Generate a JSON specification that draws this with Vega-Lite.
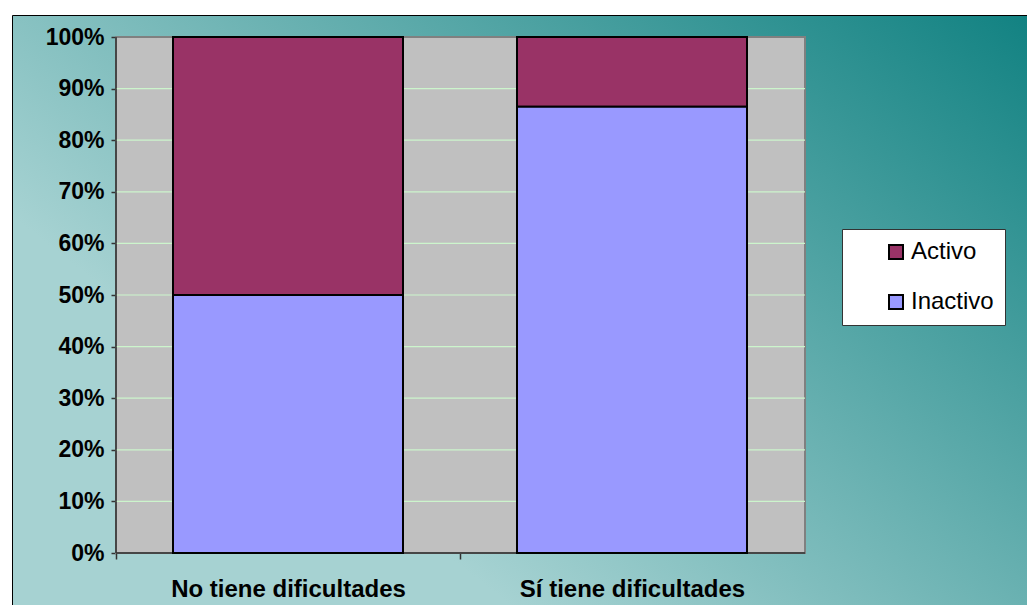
{
  "$schema": "https://vega.github.io/schema/vega-lite/v6.json",
  "width": 1016,
  "height": 591,
  "autosize": {"type": "none"},
  "padding": {"left": 12, "top": 15, "right": 0, "bottom": 0},
  "background": "white",
  "config": {
    "font": "Liberation Sans",
    "view": {
      "fill": {"gradient": "linear", "x1": 1, "y1": 0, "x2": 0.194, "y2": 0.601, "stops": [{"offset": 0, "color": "#128282"}, {"offset": 1, "color": "#a6d2d2"}]},
      "stroke": "black",
      "strokeWidth": 1
    }
  },
  "datasets": {
    "barras": [
      {"cat": "No tiene dificultades", "estado": "Activo", "valor": 0.5},
      {"cat": "No tiene dificultades", "estado": "Inactivo", "valor": 0.5},
      {"cat": "Sí tiene dificultades", "estado": "Activo", "valor": 0.135},
      {"cat": "Sí tiene dificultades", "estado": "Inactivo", "valor": 0.865}
    ],
    "rejilla": [
      {"nivel": 0.1}, {"nivel": 0.2}, {"nivel": 0.3}, {"nivel": 0.4}, {"nivel": 0.5},
      {"nivel": 0.6}, {"nivel": 0.7}, {"nivel": 0.8}, {"nivel": 0.9}
    ],
    "marco": [{"inicio": 0, "fin": 1}]
  },
  "resolve": {"scale": {"x": "independent"}},
  "layer": [
    {
      "layer": [
        {
          "data": {"name": "marco"},
          "mark": {"type": "rect", "fill": "#c0c0c0", "stroke": "#808080", "strokeWidth": 2},
          "encoding": {
            "x": {"field": "inicio", "type": "quantitative", "scale": {"domain": [-0.150943, 1.323657], "nice": false, "zero": false}, "axis": null},
            "x2": {"field": "fin"},
            "y": {"field": "inicio", "type": "quantitative", "title": null,
              "axis": {"offset": -104, "domain": false, "grid": false, "format": ".0%", "values": [0, 0.1, 0.2, 0.3, 0.4, 0.5, 0.6, 0.7, 0.8, 0.9, 1], "labelFontSize": 23, "labelFontWeight": "bold", "labelColor": "black", "labelPadding": 7, "tickSize": 5, "tickColor": "#333333", "tickWidth": 1.5}},
            "y2": {"field": "fin"}
          }
        },
        {
          "data": {"name": "rejilla"},
          "mark": {"type": "rule", "color": "#ccf5cc", "strokeWidth": 1.2},
          "encoding": {
            "x": {"datum": 0, "type": "quantitative", "axis": null},
            "x2": {"datum": 1},
            "y": {"field": "nivel", "type": "quantitative", "title": null,
              "axis": {"offset": -104, "domain": false, "grid": false, "format": ".0%", "values": [0, 0.1, 0.2, 0.3, 0.4, 0.5, 0.6, 0.7, 0.8, 0.9, 1], "labelFontSize": 23, "labelFontWeight": "bold", "labelColor": "black", "labelPadding": 7, "tickSize": 5, "tickColor": "#333333", "tickWidth": 1.5}}
          }
        },
        {
          "data": {"name": "marco"},
          "mark": {"type": "rule", "color": "#333333", "strokeWidth": 1.5},
          "encoding": {
            "x": {"field": "inicio", "type": "quantitative", "axis": null},
            "y": {"field": "inicio", "type": "quantitative", "title": null,
              "axis": {"offset": -104, "domain": false, "grid": false, "format": ".0%", "values": [0, 0.1, 0.2, 0.3, 0.4, 0.5, 0.6, 0.7, 0.8, 0.9, 1], "labelFontSize": 23, "labelFontWeight": "bold", "labelColor": "black", "labelPadding": 7, "tickSize": 5, "tickColor": "#333333", "tickWidth": 1.5}},
            "y2": {"field": "fin"}
          }
        },
        {
          "data": {"name": "marco"},
          "mark": {"type": "rule", "color": "#333333", "strokeWidth": 1.5},
          "encoding": {
            "x": {"field": "inicio", "type": "quantitative", "axis": null},
            "x2": {"field": "fin"},
            "y": {"field": "inicio", "type": "quantitative", "title": null,
              "axis": {"offset": -104, "domain": false, "grid": false, "format": ".0%", "values": [0, 0.1, 0.2, 0.3, 0.4, 0.5, 0.6, 0.7, 0.8, 0.9, 1], "labelFontSize": 23, "labelFontWeight": "bold", "labelColor": "black", "labelPadding": 7, "tickSize": 5, "tickColor": "#333333", "tickWidth": 1.5}}
          }
        }
      ]
    },
    {
      "data": {"name": "barras"},
      "mark": {"type": "bar", "stroke": "black", "strokeWidth": 2},
      "encoding": {
        "x": {
          "field": "cat", "type": "nominal", "title": null,
          "scale": {"paddingInner": 0.3314, "paddingOuter": 0.642445, "align": 0.36425},
          "axis": {"orient": "bottom", "offset": -53, "domain": false, "labelAngle": 0, "labelFontSize": 24, "labelFontWeight": "bold", "labelColor": "black", "labelPadding": 18, "labelLimit": 500, "labelOffset": 172, "tickBand": "center", "tickOffset": -172, "tickSize": 6, "tickColor": "#333333", "tickWidth": 1.5, "grid": false}
        },
        "y": {
          "field": "valor", "type": "quantitative", "title": null, "stack": "zero",
          "scale": {"domain": [-0.102713, 1.042636], "nice": false, "zero": false},
          "axis": {"offset": -104, "domain": false, "grid": false, "format": ".0%", "values": [0, 0.1, 0.2, 0.3, 0.4, 0.5, 0.6, 0.7, 0.8, 0.9, 1], "labelFontSize": 23, "labelFontWeight": "bold", "labelColor": "black", "labelPadding": 7, "tickSize": 5, "tickColor": "#333333", "tickWidth": 1.5}
        },
        "color": {
          "field": "estado", "type": "nominal",
          "scale": {"domain": ["Activo", "Inactivo"], "range": ["#993366", "#9999ff"]},
          "legend": {"title": null, "orient": "none", "legendX": 830, "legendY": 214, "fillColor": "white", "strokeColor": "#333333", "padding": 11, "symbolOffset": 31, "symbolType": "square", "symbolSize": 196, "symbolStrokeColor": "black", "symbolStrokeWidth": 2, "symbolOpacity": 1, "rowPadding": 26, "labelFontSize": 24, "labelColor": "black", "labelOffset": 3}
        },
        "order": {"field": "estado", "sort": "descending"}
      }
    }
  ]
}
